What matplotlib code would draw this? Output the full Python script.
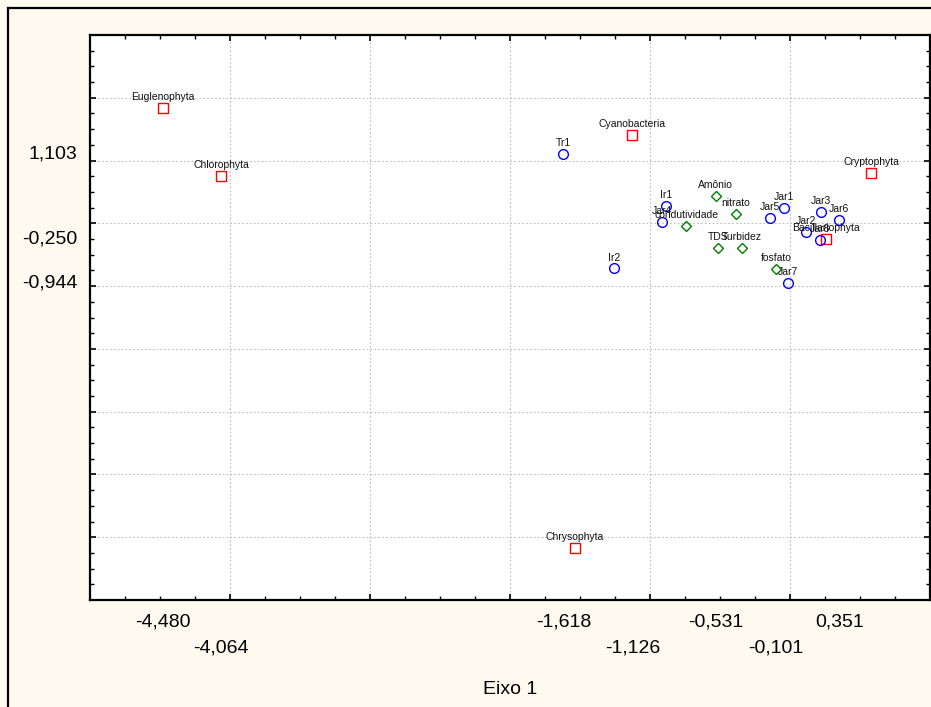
import matplotlib
matplotlib.use("Agg")
import matplotlib.pyplot as plt
from matplotlib.lines import Line2D
from matplotlib.ticker import MultipleLocator

plt.rcParams['font.family'] = ['Liberation Sans', 'DejaVu Sans']

# ---- data ----
groups = ["Euglenophyta", "Chlorophyta", "Cyanobacteria", "Cryptophyta", "Bacillariophyta", "Chrysophyta"]
groups_x = [-4.480, -4.064, -1.126, 0.582, 0.255, -1.539]
groups_y = [1.838, 0.755, 1.408, 0.807, -0.250, -5.164]

samples = ["Tr1", "Ir1", "Ir2", "Jar1", "Jar2", "Jar3", "Jar4", "Jar5", "Jar6", "Jar7", "Jar8"]
samples_x = [-1.618, -0.884, -1.256, -0.046, 0.113, 0.224, -0.915, -0.144, 0.351, -0.016, 0.217]
samples_y = [1.103, 0.277, -0.715, 0.250, -0.137, 0.187, 0.022, 0.086, 0.059, -0.944, -0.264]

variables = ["Amônio", "nitrato", "condutividade", "TDS", "Turbidez", "fosfato"]
variables_x = [-0.531, -0.388, -0.742, -0.516, -0.343, -0.101]
variables_y = [0.436, 0.154, -0.041, -0.392, -0.392, -0.726]

xtick_values = [-4.480, -4.064, -1.618, -1.126, -0.531, -0.101, 0.351]
xtick_rows = [0, 1, 0, 1, 0, 1, 0]
ytick_values = [1.103, -0.250, -0.944]
xlabel = "Eixo 1"

W, H = 931, 707
fig = plt.figure(figsize=(W / 100, H / 100), dpi=100, facecolor="#FFFAF0")

# figure border (left and top visible)
fig.add_artist(Line2D([7.5 / W, 7.5 / W], [0, 1 - 7.5 / H], transform=fig.transFigure, color="black", lw=1.6))
fig.add_artist(Line2D([7.5 / W, 1], [1 - 7.5 / H, 1 - 7.5 / H], transform=fig.transFigure, color="black", lw=1.6))

left, right, top, bottom = 90, 930, 35, 600
ax = fig.add_axes([left / W, 1 - bottom / H, (right - left) / W, (bottom - top) / H])
ax.set_facecolor("white")
ax.set_xlim(-5, 1)
ax.set_ylim(-6, 3)

ax.xaxis.set_major_locator(MultipleLocator(1))
ax.xaxis.set_minor_locator(MultipleLocator(0.25))
ax.yaxis.set_major_locator(MultipleLocator(1))
ax.yaxis.set_minor_locator(MultipleLocator(0.25))
ax.tick_params(which="both", direction="in", top=True, right=True, labelbottom=False, labelleft=False,
               color="black")
ax.tick_params(which="major", length=4, width=1.2)
ax.tick_params(which="minor", length=3, width=1.0)
for s in ax.spines.values():
    s.set_linewidth(1.6)

ax.grid(True, which="major", color="#bdbdbd", linestyle=(0, (1.5, 2)), linewidth=0.8)
ax.set_axisbelow(True)

lab_kw = dict(textcoords="offset points", ha="center", va="baseline", fontsize=7.5, color="#111111")

ax.plot(groups_x, groups_y, linestyle="none", marker="s", markersize=7, markerfacecolor="none",
        markeredgecolor="#ff0000", markeredgewidth=1.0)
for n, x, y in zip(groups, groups_x, groups_y):
    ax.annotate(n, (x, y), xytext=(0, 5.5), **lab_kw)

ax.plot(samples_x, samples_y, linestyle="none", marker="o", markersize=7, markerfacecolor="none",
        markeredgecolor="#0000ff", markeredgewidth=1.0)
for n, x, y in zip(samples, samples_x, samples_y):
    ax.annotate(n, (x, y), xytext=(0, 5.5), **lab_kw)

ax.plot(variables_x, variables_y, linestyle="none", marker="D", markersize=5.5, markerfacecolor="none",
        markeredgecolor="#008000", markeredgewidth=1.0)
for n, x, y in zip(variables, variables_x, variables_y):
    ax.annotate(n, (x, y), xytext=(0, 5.5), **lab_kw)

def fmt(v):
    return f"{v:.3f}".replace(".", ",")

xt = ax.get_xaxis_transform()
for v, r in zip(xtick_values, xtick_rows):
    ax.annotate(fmt(v), (v, 0), xycoords=xt, xytext=(0, -15.5 - 19 * r), textcoords="offset points",
                ha="center", va="center", fontsize=14)

yt = ax.get_yaxis_transform()
for v in ytick_values:
    ax.annotate(fmt(v), (0, v), xycoords=yt, xytext=(-9, 0), textcoords="offset points",
                ha="right", va="center", fontsize=14)

fig.text((left + right) / 2 / W, 1 - 690 / H, xlabel, ha="center", va="center", fontsize=14)

fig.savefig("out.png", dpi=100, facecolor=fig.get_facecolor())
